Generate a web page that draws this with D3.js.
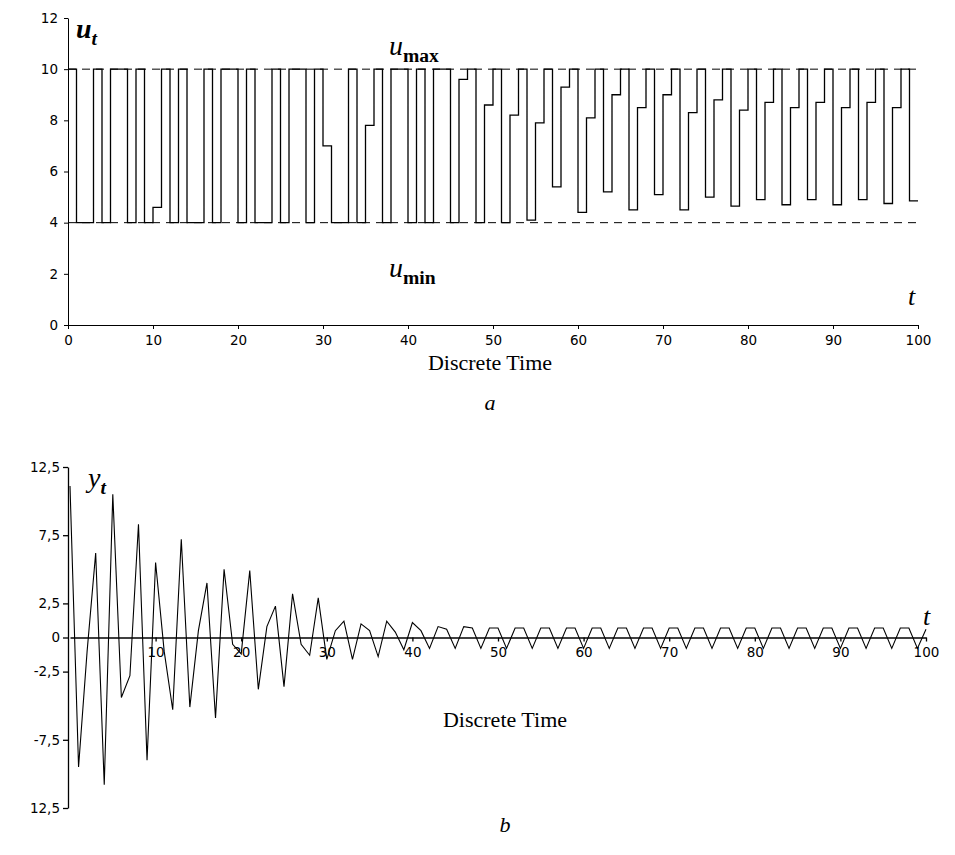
<!DOCTYPE html>
<html><head><meta charset="utf-8">
<script src="https://cdn.jsdelivr.net/npm/d3@7"></script>
<style>body{margin:0;background:#fff}</style>
</head><body>
<script>
// control u_t, one value per discrete time step 0..100
var uVals = [10,4,4,10,4,10,10,4,10,4, 4.6,10,4,10,4,4,10,4,10,10,
  4,10,4,4,10,4,10,10,4,10, 7,4,4,10,4,7.8,10,4,10,10,
  4,10,4,10,10,4,9.6,10,4,8.6, 10,4,8.2,10,4.1,7.9,10,5.4,9.3,10,
  4.4,8.1,10,5.2,9.0,10,4.5,8.5,10,5.1, 9.0,10,4.5,8.3,10,5.0,8.8,10,4.65,8.4,
  10,4.9,8.7,10,4.7,8.5,10,4.9,8.7,10, 4.7,8.5,10,4.9,8.7,10,4.75,8.5,10,4.85,4.85];
// output y_t
var yVals = [11.1,-9.5,-1,6.2,-10.8,10.5,-4.4,-2.8,8.3,-9, 5.5,-1,-5.3,7.2,-5.1,0.5,4.0,-5.9,5.0,-0.5,
  -1.2,4.9,-3.8,0.8,2.3,-3.6,3.2,-0.5,-1.3,2.9, -1.6,0.5,1.2,-1.6,1.0,0.5,-1.4,1.2,0.4,-0.9,
  1.1,0.5,-0.8,0.8,0.6,-0.8,0.8,0.7,-0.8,0.7, 0.7,-0.8,0.7,0.7,-0.8,0.7,0.7,-0.8,0.7,0.7,
  -0.8,0.7,0.7,-0.8,0.7,0.7,-0.8,0.7,0.7,-0.8, 0.7,0.7,-0.8,0.7,0.7,-0.8,0.7,0.7,-0.8,0.7,
  0.7,-0.8,0.7,0.7,-0.8,0.7,0.7,-0.8,0.7,0.7, -0.8,0.7,0.7,-0.8,0.7,0.7,-0.8,0.7,0.7,-0.8,0.6];
var xTicks = [0,10,20,30,40,50,60,70,80,90,100];
var uTicks = [0,2,4,6,8,10,12];
var yTicks = [12.5,7.5,2.5,0,-2.5,-7.5,-12.5];
var yTickLabels = ["12,5","7,5","2,5","0","-2,5","-7,5","12,5"];
var uMax = 10, uMin = 4;

var svg = d3.select("body").append("svg").attr("width",955).attr("height",855);
var tickFont = "DejaVu Sans", serif = "Liberation Serif";

// ---- chart a
var xa = d3.scaleLinear().domain([0,100]).range([68,918]);
var ya = d3.scaleLinear().domain([0,12]).range([325,18]);
var ga = svg.append("g");
ga.append("g").attr("transform","translate(0,325)")
  .call(d3.axisBottom(xa).tickValues(xTicks).tickSize(4).tickSizeOuter(0).tickPadding(6));
ga.append("g").attr("transform","translate(68,0)")
  .call(d3.axisLeft(ya).tickValues(uTicks).tickSize(4).tickSizeOuter(0).tickPadding(6));
ga.selectAll(".tick text").attr("font-family",tickFont).attr("font-size",13.5).attr("fill","#000");
ga.selectAll(".domain,.tick line").attr("stroke","#000");
[uMax,uMin].forEach(function(v){
  ga.append("line").attr("x1",xa(0)).attr("x2",xa(100)).attr("y1",ya(v)).attr("y2",ya(v))
    .attr("stroke","#000").attr("stroke-dasharray","8,6");
});
ga.append("path").datum(uVals)
  .attr("d", d3.line().curve(d3.curveStepAfter).x(function(d,i){return xa(i);}).y(function(d){return ya(d);}))
  .attr("fill","none").attr("stroke","#000").attr("stroke-width",1.3);

function label(x,y,main,sub,size,subItalic,bold){
  var t = svg.append("text").attr("x",x).attr("y",y).attr("font-family",serif).attr("font-size",size);
  t.append("tspan").text(main).attr("font-style","italic").attr("font-weight",bold?"bold":"normal");
  if(sub) t.append("tspan").text(sub).attr("dy",size*0.25).attr("font-size",size*0.7)
    .attr("font-style",subItalic?"italic":"normal").attr("font-weight","bold");
  return t;
}
label(76,38,"u","t",28,true,true);
label(389,55,"u","max",28,false,false);
label(389,277,"u","min",28,false,false);
label(908,305,"t",null,26,false,false);
svg.append("text").attr("x",490).attr("y",370).attr("text-anchor","middle")
  .attr("font-family",serif).attr("font-size",22).text("Discrete Time");
svg.append("text").attr("x",490).attr("y",410).attr("text-anchor","middle")
  .attr("font-family",serif).attr("font-size",22).attr("font-style","italic").text("a");

// ---- chart b
var xb = d3.scaleLinear().domain([0,100]).range([70,926]);
var yb = d3.scaleLinear().domain([-12.5,12.5]).range([808,467]);
var gb = svg.append("g");
gb.append("g").attr("transform","translate(0,"+yb(0)+")")
  .call(d3.axisBottom(xb).tickValues(xTicks.slice(1)).tickSize(4).tickSizeOuter(0).tickPadding(6));
gb.append("g").attr("transform","translate(68,0)")
  .call(d3.axisLeft(yb).tickValues(yTicks).tickFormat(function(d,i){return yTickLabels[i];}).tickSize(5).tickSizeOuter(0));
gb.selectAll(".tick text").attr("font-family",tickFont).attr("font-size",13.5).attr("fill","#000");
gb.selectAll(".domain,.tick line").attr("stroke","#000").attr("stroke-width",1.3);
gb.append("path").datum(yVals)
  .attr("d", d3.line().x(function(d,i){return xb(i);}).y(function(d){return yb(d);}))
  .attr("fill","none").attr("stroke","#000").attr("stroke-width",1.1);
label(88,487,"y","t",28,true,false);
label(923,625,"t",null,26,false,false);
svg.append("text").attr("x",505).attr("y",727).attr("text-anchor","middle")
  .attr("font-family",serif).attr("font-size",22).text("Discrete Time");
svg.append("text").attr("x",505).attr("y",832).attr("text-anchor","middle")
  .attr("font-family",serif).attr("font-size",22).attr("font-style","italic").text("b");
</script>
</body></html>
